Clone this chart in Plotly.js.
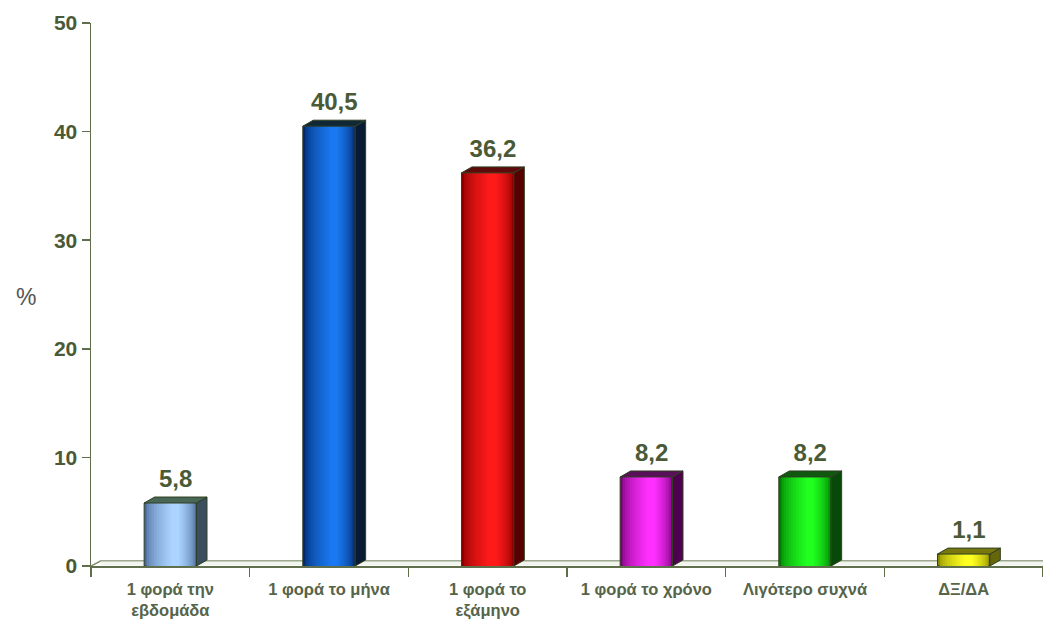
<!DOCTYPE html>
<html>
<head>
<meta charset="utf-8">
<script src="https://cdn.plot.ly/plotly-3.0.1.min.js"></script>
<style>html,body{margin:0;padding:0;background:#fff;}#chart{width:1043px;height:625px;}</style>
</head>
<body>
<div id="chart"></div>
<script>
// ---- data ----
const categories = ['1 φορά την<br>εβδομάδα', '1 φορά το μήνα', '1 φορά το<br>εξάμηνο', '1 φορά το χρόνο', 'Λιγότερο συχνά', 'ΔΞ/ΔΑ'];
const values = [5.8, 40.5, 36.2, 8.2, 8.2, 1.1];
const valueLabels = values.map(v => v.toFixed(1).replace('.', ','));
const yTicks = [0, 10, 20, 30, 40, 50];
const yTitle = '%';

// ---- style ----
const highlightColors = ['#acd4ff', '#1a78f0', '#ff1a1a', '#ff30ff', '#20ff20', '#ffff20'];
const edgeColors      = ['#48689a', '#00286a', '#8a0000', '#7a007a', '#007a00', '#8a8a00'];
const sideColors      = ['#3a4e60', '#081a34', '#560000', '#4e004e', '#084808', '#66660a'];
const topColors       = ['#4a6656', '#102836', '#5e0a0a', '#581058', '#105810', '#78780e'];
const olive = '#4b5a36';
const font = 'Arial, "Liberation Sans", sans-serif';

const xs = categories.map((c, i) => i);
const w = 0.33;      // front width (x units)
const dx = 0.066;    // depth in x
const dy = 0.55;     // depth in y

function hexToRgb(h){ h=h.replace('#',''); return [0,2,4].map(i=>parseInt(h.substr(i,2),16)); }
function mix(a,b,t){ const A=hexToRgb(a),B=hexToRgb(b); return 'rgb('+A.map((v,i)=>Math.round(v+(B[i]-v)*t)).join(',')+')'; }

const traces = [];

// side and top faces of each bar (polygons computed from values)
xs.forEach((x, i) => {
  const v = values[i];
  const r = x + w/2, l = x - w/2;
  traces.push({
    type:'scatter', mode:'lines', fill:'toself', hoverinfo:'skip', showlegend:false,
    x:[r, r+dx, r+dx, r, r], y:[0, dy, v+dy, v, 0],
    fillcolor: sideColors[i], line:{color:'#2e3e22', width:1}
  });
  traces.push({
    type:'scatter', mode:'lines', fill:'toself', hoverinfo:'skip', showlegend:false,
    x:[l, l+dx, r+dx, r, l], y:[v, v+dy, v+dy, v, v],
    fillcolor: topColors[i], line:{color:'#2e3e22', width:1}
  });
});

// cylindrical front face: layered bars
const N = 12;
for (let k = 0; k < N; k++) {
  const t = k / (N - 1);
  const width = w * (1 - 0.85 * t);
  const center = 0.09 * w * t;
  traces.push({
    type:'bar', x: xs, y: values, hoverinfo:'skip', showlegend:false,
    width: width, offset: center - width/2,
    marker:{
      color: edgeColors.map((e, i) => mix(e, highlightColors[i], Math.pow(t, 0.55))),
      line: k === 0 ? {color:'#2e3e22', width:1} : {width:0}
    }
  });
}

// value labels
traces.push({
  type:'scatter', mode:'text', hoverinfo:'skip', showlegend:false,
  x: xs.map(x => x + dx/2), y: values.map(v => v + dy + 0.35),
  text: valueLabels, textposition:'top center',
  textfont:{family:font, size:24, color:olive, weight:'bold'}
});

const boundaries = [];
for (let i = 0; i <= categories.length; i++) boundaries.push(i - 0.5);

const layout = {
  width:1043, height:625,
  margin:{l:91, r:0, t:23, b:59},
  paper_bgcolor:'#ffffff', plot_bgcolor:'#ffffff',
  barmode:'overlay',
  showlegend:false,
  font:{family:font},
  xaxis:{
    range:[-0.5, 5.5], tickmode:'array', tickvals: xs, ticktext: categories,
    ticks:'', showgrid:false, zeroline:false,
    showline:true, linecolor:'#5f6f4c', linewidth:2,
    ticklabelstandoff: 7,
    tickfont:{family:font, size:16.5, color:'#56644a', weight:'bold'},
    minor:{tickmode:'array', tickvals: boundaries, ticks:'outside', ticklen:9, tickcolor:'#5f6f4c', tickwidth:1.5, showgrid:false},
    fixedrange:true
  },
  yaxis:{
    range:[0, 50], tickmode:'array', tickvals: yTicks,
    ticks:'outside', ticklen:8, tickcolor:'#5f6f4c', tickwidth:1.5,
    showgrid:false, zeroline:false,
    showline:true, linecolor:'#5f6f4c', linewidth:1.5,
    tickfont:{family:font, size:21, color:olive, weight:'bold'},
    fixedrange:true
  },
  annotations:[
    {text: yTitle, xref:'paper', yref:'paper', x:-0.068, y:0.495, xanchor:'center', yanchor:'middle',
     showarrow:false, font:{family:font, size:23, color:'#555555'}}
  ],
  shapes:[
    {type:'path', xref:'x', yref:'y', layer:'below',
     path:'M -0.5,0 L -0.44,0.45 L 5.5,0.45',
     line:{color:'#7d8c6c', width:1.5}},
    {type:'rect', xref:'x', yref:'y', layer:'below',
     x0:-0.44, x1:5.5, y0:0.05, y1:0.42, fillcolor:'#f2f4ee', line:{width:0}}
  ]
};

Plotly.newPlot('chart', traces, layout, {displayModeBar:false, staticPlot:true});
</script>
</body>
</html>
